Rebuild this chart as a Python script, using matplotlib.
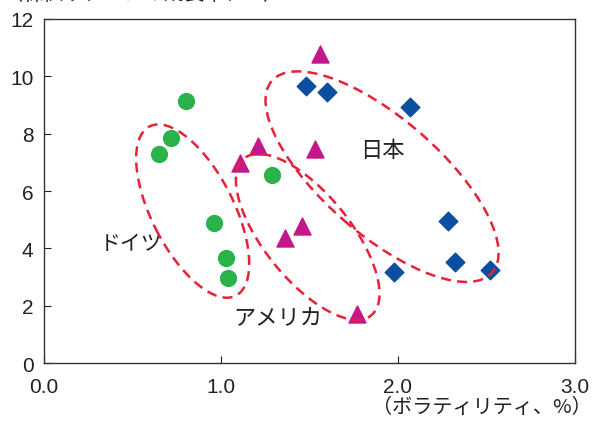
import matplotlib.pyplot as plt
from matplotlib.patches import Ellipse
from matplotlib.transforms import ScaledTranslation

plt.rcParams['font.family'] = ['Liberation Sans', 'Noto Sans CJK JP', 'DejaVu Sans']

# Germany (green circles)
de_x = [0.80, 0.72, 0.65, 1.29, 0.96, 1.03, 1.04]
de_y = [9.14, 7.85, 7.29, 6.56, 4.88, 3.66, 2.96]

# USA (magenta triangles)
us_x = [1.56, 1.21, 1.53, 1.11, 1.46, 1.36, 1.77]
us_y = [10.78, 7.57, 7.46, 6.98, 4.78, 4.36, 1.71]

# Japan (blue diamonds)
jp_x = [1.48, 1.60, 2.07, 2.28, 2.32, 1.98, 2.52]
jp_y = [9.66, 9.45, 8.93, 4.95, 3.52, 3.17, 3.24]

fig = plt.figure(figsize=(5.93, 4.27), dpi=100)
ax = fig.add_axes([0.0742, 0.1475, 0.8954, 0.8057])

ax.scatter(de_x, de_y, s=130, marker='o', color='#2bb34b', zorder=3)
ax.scatter(us_x, us_y, s=150, marker='^', color='#c4178c', zorder=3)
ax.scatter(jp_x, jp_y, s=90, marker='D', color='#0d4ea0', zorder=3)

# dashed group outlines: center (data), width/height (inches), angle
groups = [((0.84, 5.3), 1.9, 0.82, -63),
          ((1.49, 4.4), 2.02, 0.86, -51),
          ((1.91, 6.5), 2.92, 1.16, -41)]
for (cx, cy), w, h, ang in groups:
    tr = fig.dpi_scale_trans + ScaledTranslation(cx, cy, ax.transData)
    ax.add_patch(Ellipse((0, 0), w, h, angle=ang, transform=tr, fill=False,
                         edgecolor='#e8203a', lw=1.8, ls=(0, (4, 2.5)), zorder=4))

jfont = ['Noto Sans CJK JP']
ax.text(0.49, 4.2, 'ドイツ', fontsize=15, color='#222222',
        family=jfont, ha='center', va='center')
ax.text(1.32, 1.6, 'アメリカ', fontsize=16, color='#222222',
        family=jfont, ha='center', va='center')
ax.text(1.91, 7.45, '日本', fontsize=16, color='#222222',
        family=jfont, ha='center', va='center')

ax.set_xlim(0, 3)
ax.set_ylim(0, 12)
ax.set_xticks([0, 1, 2, 3])
ax.set_xticklabels(['0.0', '1.0', '2.0', '3.0'])
ax.set_yticks([0, 2, 4, 6, 8, 10, 12])
ax.tick_params(direction='in', length=5, width=0.8, labelsize=15, colors='#222222')
ax.tick_params(axis='y', pad=7.5)
ax.tick_params(axis='x', pad=10)
for s in ax.spines.values():
    s.set_color('#333333')
    s.set_linewidth(1.0)

fig.text(0.998, 0.02, '（ボラティリティ、%）', fontsize=14.5, color='#222222',
         family=jfont, ha='right', va='bottom')
fig.text(0.005, 1.012, '（株価リターンの成長率、%）', fontsize=14.5, color='#222222',
         family=jfont, ha='left', va='center')

fig.savefig('out.png', dpi=100)
